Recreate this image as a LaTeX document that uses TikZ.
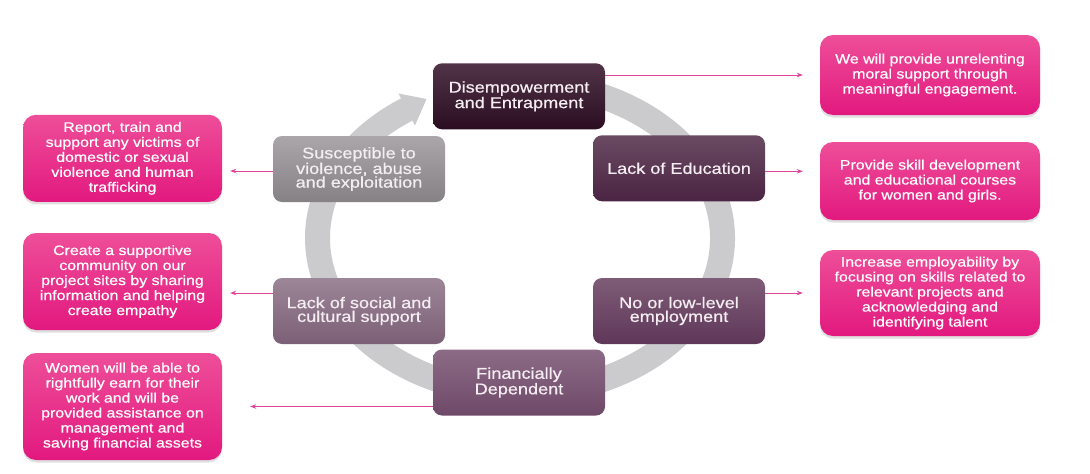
\documentclass[tikz,border=0pt]{standalone}
\usepackage{fontspec}
\setmainfont{Liberation Sans}[FakeStretch=1.16,FakeBold=0.6]
\usetikzlibrary{shadows,arrows.meta}
\definecolor{ringc}{HTML}{CBCACD}
\definecolor{cboxtext}{HTML}{F4EEF2}
\definecolor{pinktop}{HTML}{EE4E99}
\definecolor{pinkbot}{HTML}{E2197F}
\definecolor{linkpink}{HTML}{E0449A}
\definecolor{disT}{HTML}{523449}\definecolor{disB}{HTML}{2B0D22}
\definecolor{eduT}{HTML}{6A4A62}\definecolor{eduB}{HTML}{4A2443}
\definecolor{empT}{HTML}{7E5C77}\definecolor{empB}{HTML}{5F3759}
\definecolor{finT}{HTML}{8C6B86}\definecolor{finB}{HTML}{6E4968}
\definecolor{socT}{HTML}{9D8698}\definecolor{socB}{HTML}{7B5F76}
\definecolor{susT}{HTML}{AAA6AA}\definecolor{susB}{HTML}{858185}
\tikzset{
  cbox/.style={rounded corners=9pt, minimum width=172pt, minimum height=66pt,
    inner sep=0pt, align=center, text=cboxtext,
    font=\fontsize{15.6}{13.7}\selectfont},
  pbox/.style={rounded corners=13pt, minimum width=220pt, inner sep=0pt,
    align=center, text=white, font=\fontsize{13.7}{15}\selectfont,
    top color=pinktop, bottom color=pinkbot,
    drop shadow={opacity=0.25, shadow xshift=0pt, shadow yshift=-2.5pt}},
  lbox/.style={pbox, minimum width=199pt},
  link/.style={draw=linkpink, line width=0.9pt, -{Stealth[length=6pt,width=4.5pt]}},
  ringline/.style={draw=ringc, line width=25pt},
}
\begin{document}
\begin{tikzpicture}[x=1pt,y=-1pt]
\useasboundingbox (0,0) rectangle (1090,474);
% ring
\draw[ringline] (520,238) ++(-100:202.5 and 155)
  arc[start angle=-100, end angle=236.5, x radius=202.5, y radius=155];
\fill[ringc] (426.5,99) -- (398.5,93.5) -- (415,125.5) -- cycle;
% central boxes
\node[cbox, top color=disT, bottom color=disB] (dis) at (519,96.3) {Disempowerment\\and Entrapment};
\node[cbox, top color=eduT, bottom color=eduB] (edu) at (679,168.3) {Lack of Education};
\node[cbox, top color=susT, bottom color=susB] (sus) at (359,169) {Susceptible to\\violence, abuse\\and exploitation};
\node[cbox, top color=socT, bottom color=socB] (soc) at (359,311) {Lack of social and\\cultural support};
\node[cbox, top color=empT, bottom color=empB] (emp) at (679,311) {No or low-level\\employment};
\node[cbox, top color=finT, bottom color=finB] (fin) at (519,382.5) {Financially\\Dependent};
% pink boxes
\node[pbox, minimum height=80pt] (r1) at (930,75) {We will provide unrelenting\\moral support through\\meaningful engagement.};
\node[pbox, minimum height=78pt] (r2) at (930,181) {Provide skill development\\and educational courses\\for women and girls.};
\node[pbox, minimum height=86pt] (r3) at (930,293) {Increase employability by\\focusing on skills related to\\relevant projects and\\acknowledging and\\identifying talent};
\node[lbox, minimum height=87pt] (l1) at (122.5,158.3) {Report, train and\\support any victims of\\domestic or sexual\\violence and human\\trafficking};
\node[lbox, minimum height=97pt] (l2) at (122.5,281.5) {Create a supportive\\community on our\\project sites by sharing\\information and helping\\create empathy};
\node[lbox, minimum height=107pt] (l3) at (122.5,406.5) {Women will be able to\\rightfully earn for their\\work and will be\\provided assistance on\\management and\\saving financial assets};
% connectors
\draw[link, shorten >=17pt] (dis.east |- r1.west) -- (r1.west);
\draw[link, shorten >=17pt] ([yshift=-3pt]edu.east) coordinate (e2) -- (e2 -| r2.west);
\draw[link, shorten >=17pt] (emp.east |- r3.west) -- (r3.west);
\draw[link, shorten >=8pt] ([yshift=-2pt]sus.west) coordinate (s1) -- (s1 -| l1.east);
\draw[link, shorten >=8pt] ([yshift=18pt]soc.west) coordinate (s2) -- (s2 -| l2.east);
\draw[link, shorten >=28pt] (fin.west |- l3.east) -- (l3.east);
\end{tikzpicture}
\end{document}
